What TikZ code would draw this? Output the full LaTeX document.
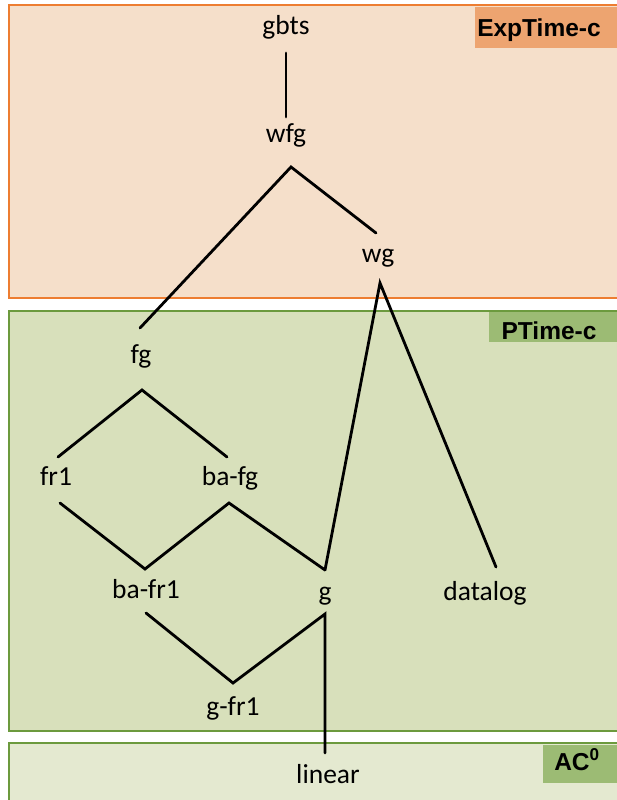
\documentclass[tikz,border=0pt]{standalone}
\usepackage{fontspec}
\setmainfont{Carlito}
\newfontfamily\labelfont{Liberation Sans}
\definecolor{expfill}{HTML}{F5DFCA}
\definecolor{expline}{HTML}{ED7D31}
\definecolor{explab}{HTML}{EDA470}
\definecolor{pfill}{HTML}{D8E0BB}
\definecolor{pline}{HTML}{6C9A3E}
\definecolor{plab}{HTML}{9CBB74}
\definecolor{acfill}{HTML}{E4E9D0}
\begin{document}
\begin{tikzpicture}[x=1pt,y=-1pt,
  cls/.style={anchor=base,inner sep=0pt,font=\fontsize{27.5}{30}\selectfont},
  lab/.style={anchor=base,inner sep=0pt,font=\labelfont\bfseries\fontsize{24.5}{27}\selectfont},
  edge/.style={line width=2.8pt,line cap=round}]
\useasboundingbox (0,0) rectangle (617,800);
% class regions
\path[fill=expfill,draw=expline,line width=1.5pt] (9,5) rectangle (625,298);
\path[fill=pfill,draw=pline,line width=1.5pt] (9,311) rectangle (625,731);
\path[fill=acfill,draw=pline,line width=1.5pt] (9,743) rectangle (625,810);
\fill[explab] (475,7) rectangle (620,48);
\fill[plab] (489,312) rectangle (620,342);
\fill[plab] (543,745) rectangle (620,783);
\node[lab] (lexp) at (539,37) {ExpTime-c};
\node[lab] (lp) at (549,339) {PTime-c};
\node[lab] (lac) at (577,770) {AC\textsuperscript{0}};
% classes
\node[cls] (gbts) at (286,35) {gbts};
\node[cls] (wfg) at (286,142) {wfg};
\node[cls] (wg) at (378,262) {wg};
\node[cls] (fg) at (141,363) {fg};
\node[cls] (fr1) at (56,485) {fr1};
\node[cls] (bafg) at (230,485) {ba-fg};
\node[cls] (bafr1) at (146,598) {ba-fr1};
\node[cls] (g) at (325,600) {g};
\node[cls] (datalog) at (485,600) {datalog};
\node[cls] (gfr1) at (233,715) {g-fr1};
\node[cls] (linear) at (328,783) {linear};
% connectors
\draw[edge] ([shift={(0,18)}]gbts.base) -- ([shift={(0,-25)}]wfg.base);
\draw[edge] ([shift={(-1,-35)}]fg.base) -- ([shift={(5,25)}]wfg.base) -- ([shift={(-2,-29)}]wg.base);
\draw[edge] ([shift={(0,-30)}]g.base) -- ([shift={(2,21)}]wg.base) -- ([shift={(11,-33)}]datalog.base);
\draw[edge] ([shift={(2,-28)}]fr1.base) -- ([shift={(1,27)}]fg.base) -- ([shift={(-3,-28)}]bafg.base);
\draw[edge] ([shift={(4,18)}]fr1.base) -- ([shift={(-1,-29)}]bafr1.base) -- ([shift={(-1,18)}]bafg.base) -- ([shift={(0,-30)}]g.base);
\draw[edge] ([shift={(0,15)}]bafr1.base) -- ([shift={(0,-32)}]gfr1.base) -- ([shift={(0,14)}]g.base) -- ([shift={(-3,-30)}]linear.base);
\end{tikzpicture}
\end{document}
